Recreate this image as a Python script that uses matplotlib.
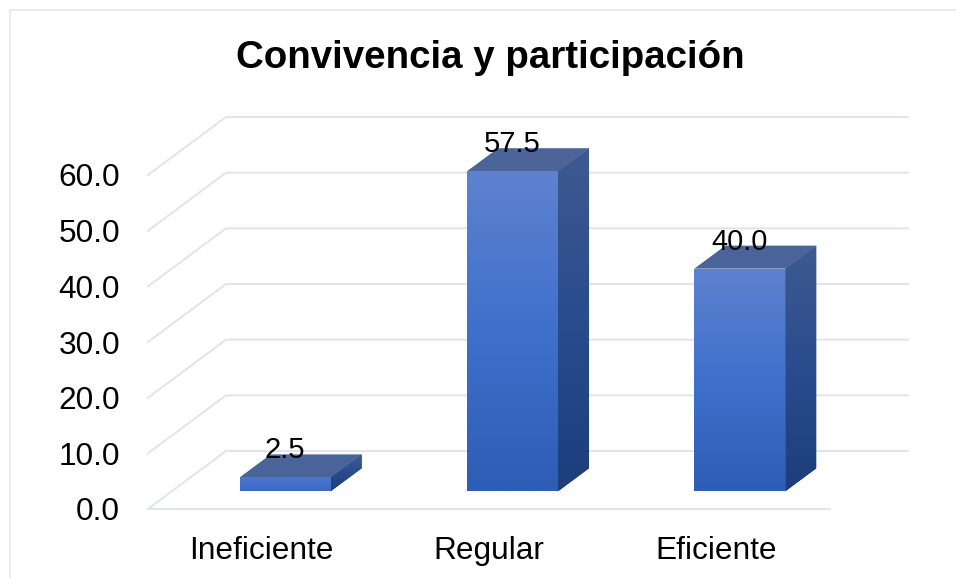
import numpy as np
import matplotlib
matplotlib.use("Agg")
import matplotlib.pyplot as plt
from matplotlib.colors import LinearSegmentedColormap
from matplotlib.lines import Line2D
from matplotlib.patches import Polygon

title = "Convivencia y participación"
categories = ["Ineficiente", "Regular", "Eficiente"]
values = [2.5, 57.5, 40.0]
yticks = [0, 10, 20, 30, 40, 50, 60]

W, H = 956, 578
plt.rcParams["font.family"] = ["Liberation Sans", "DejaVu Sans"]
fig = plt.figure(figsize=(W / 100, H / 100), dpi=100, facecolor="white")

# plot-area box in pixels
L, R, B, T = 148, 830, 509, 175
ax = fig.add_axes([L / W, 1 - B / H, (R - L) / W, (B - T) / H])
ax.set_xlim(0, len(categories))
ax.set_ylim(0, 60)
ax.patch.set_alpha(0)
for s in ax.spines.values():
    s.set_visible(False)

px_x = (R - L) / len(categories)
px_y = (B - T) / 60
GRID = "#E2E4EC"
wall_dx, wall_dy = 78 / px_x, 58 / px_y
gap_dx, gap_dy = 23.5 / px_x, 17.7 / px_y
bar_dx, bar_dy = 31 / px_x, 23 / px_y
bar_w = 91 / px_x

# floor / walls
for t in yticks:
    ax.plot([0, wall_dx, len(categories) + wall_dx], [t, t + wall_dy, t + wall_dy],
            color=GRID, lw=1.4, clip_on=False, zorder=1, solid_joinstyle="miter")
ax.plot([0, len(categories)], [0, 0], color=GRID, lw=1.4, clip_on=False, zorder=1)

front_cm = LinearSegmentedColormap.from_list("f", ["#5E82CF", "#3F70CC", "#2D5DB4"])
short_cm = LinearSegmentedColormap.from_list("s", ["#4C76CE", "#3A6AC6"])
side_cm = LinearSegmentedColormap.from_list("d", ["#3E5A90", "#2A4C8C", "#1D3E7B"])
grad = np.linspace(0, 1, 256).reshape(-1, 1)


def gradient(poly, cmap, x0, x1, y0, y1, z):
    im = ax.imshow(grad, cmap=cmap, extent=(x0, x1, y0, y1), origin="upper",
                   aspect="auto", zorder=z)
    im.set_clip_path(poly)
    im.set_clip_box(fig.bbox)


for i, v in enumerate(values):
    xc = i + 0.5 + gap_dx
    x0 = xc - bar_w / 2
    x1 = x0 + bar_w
    y0 = gap_dy
    y1 = v + gap_dy
    # top face
    ax.add_patch(Polygon([(x0, y1), (x1, y1), (x1 + bar_dx, y1 + bar_dy), (x0 + bar_dx, y1 + bar_dy)],
                         closed=True, fc="#4A6399", ec="none", clip_on=False, zorder=3))
    # side face
    side = Polygon([(x1, y0), (x1 + bar_dx, y0 + bar_dy), (x1 + bar_dx, y1 + bar_dy), (x1, y1)],
                   closed=True, fc="#2A4C8C", ec="none", clip_on=False, zorder=3)
    ax.add_patch(side)
    gradient(side, side_cm, x1, x1 + bar_dx, y0, y1 + bar_dy, 3.1)
    # front face
    bar = ax.bar(xc, v, width=bar_w, bottom=y0, color="#3F70CC", zorder=4, clip_on=False)[0]
    front = Polygon(bar.get_corners(), closed=True, fc="none", ec="none",
                    transform=ax.transData)
    ax.add_patch(front)
    gradient(front, short_cm if v < 10 else front_cm, x0, x1, y0, y1, 4.1)
    ax.annotate(f"{v:.1f}", (xc, y1), xytext=(-0.5, 19.5), textcoords="offset points",
                ha="center", va="center", fontsize=21, color="black", zorder=6,
                annotation_clip=False)

ax.set_xlim(0, len(categories))
ax.set_ylim(0, 60)
ax.set_yticks(yticks, [f"{t:.1f}" for t in yticks], fontsize=22.8)
ax.set_xticks(np.arange(len(categories)) + 0.5, categories, fontsize=22.8)
ax.tick_params(axis="y", length=0, pad=20)
ax.tick_params(axis="x", length=0, pad=19.5)

fig.text(490 / W, 1 - 58.5 / H, title, ha="center", va="center", fontsize=27.7,
         fontweight="bold", color="black")

# chart frame
fig.add_artist(Line2D([10 / W, 10 / W, 1], [0, 1 - 10 / H, 1 - 10 / H],
                      color="#E3E6EE", lw=1.2, transform=fig.transFigure))

fig.savefig("out.png", dpi=100, facecolor="white")
